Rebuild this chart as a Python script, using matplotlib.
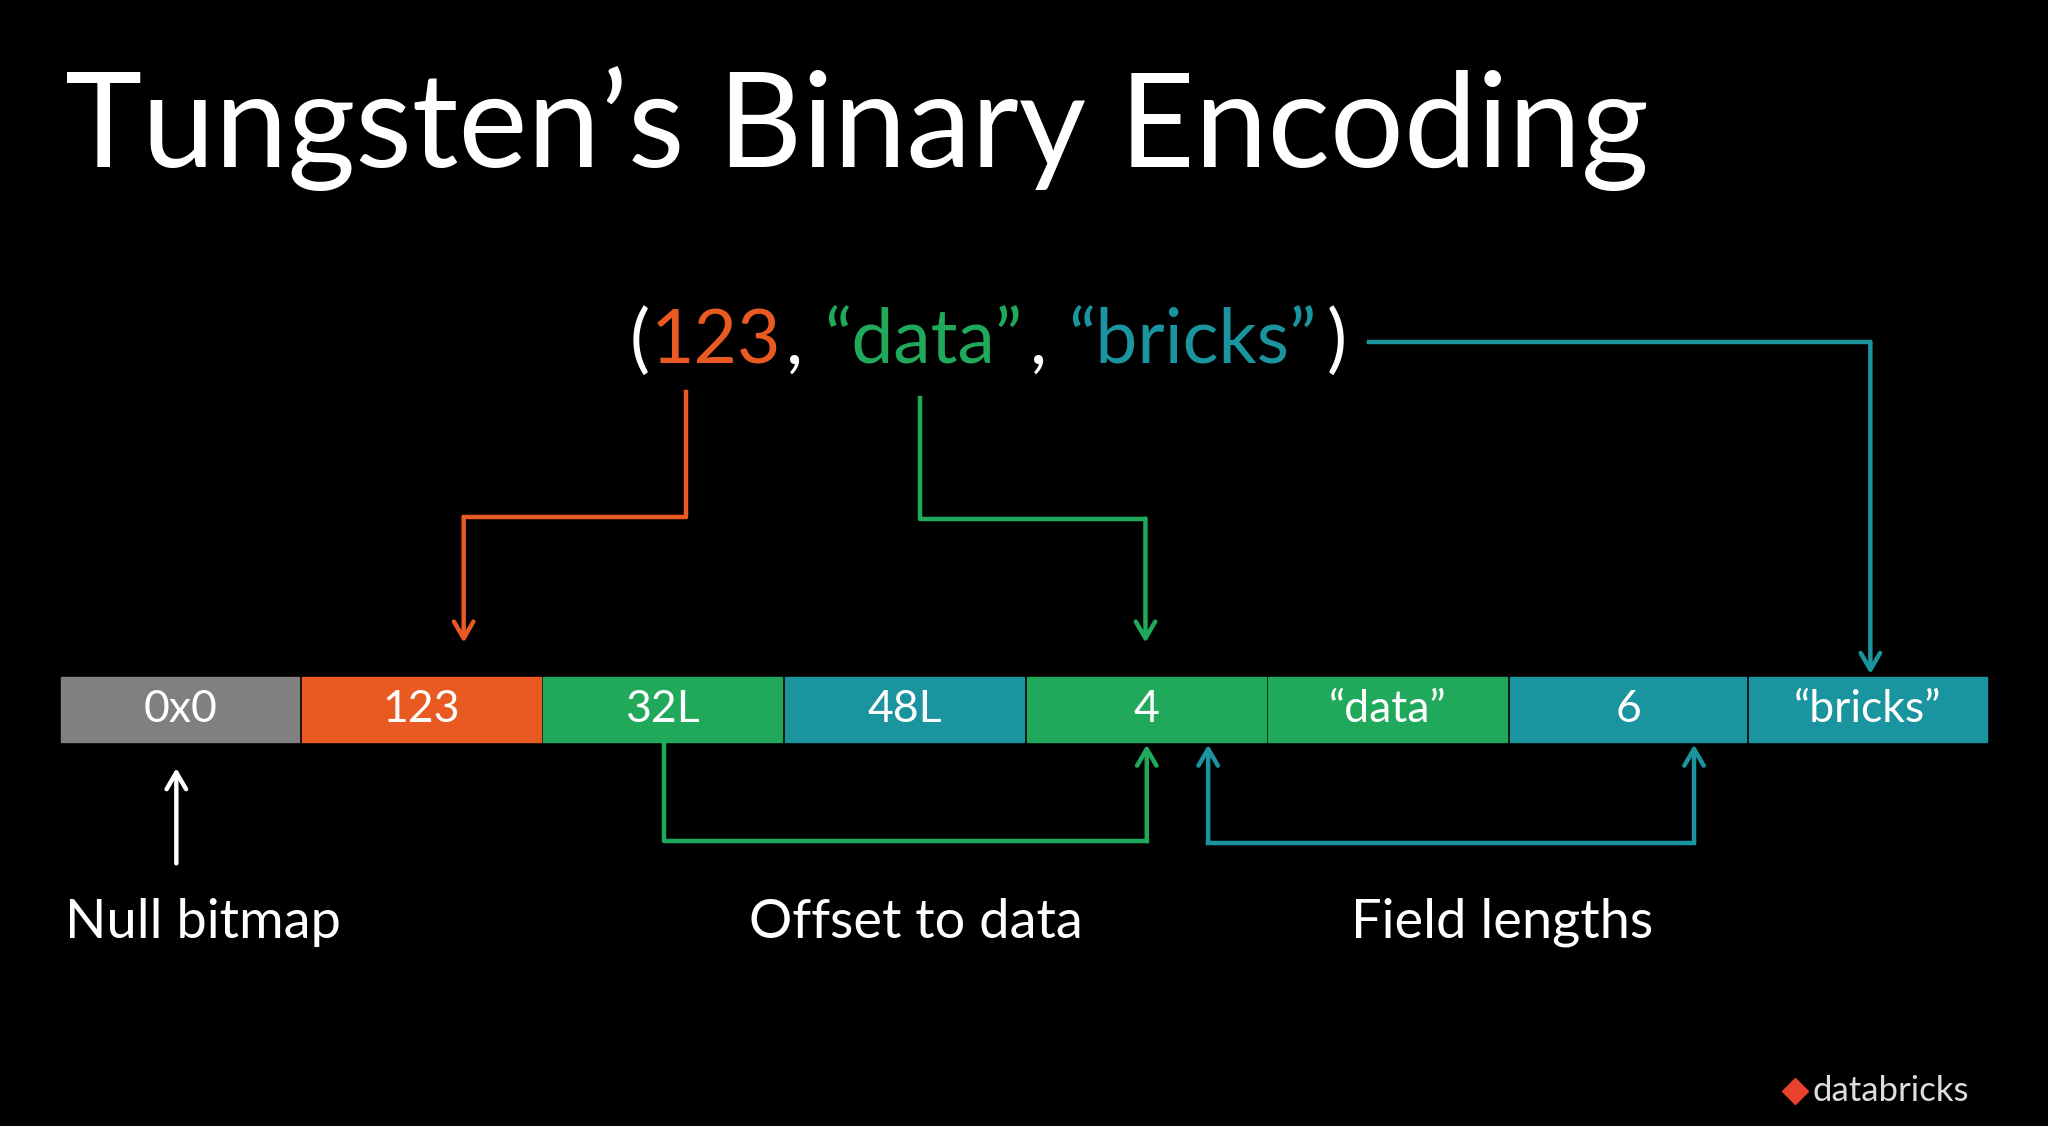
import matplotlib
matplotlib.use("Agg")
import matplotlib.pyplot as plt
from matplotlib.patches import Rectangle, FancyArrowPatch

plt.rcParams['font.family'] = ['Lato', 'DejaVu Sans']

# reference drawn in a 1568 x 862 pixel frame
W, H = 1568, 862
GRAY, ORANGE, GREEN, TEAL = '#808080', '#e85a21', '#20a95b', '#1a949f'

cell_labels = ['0x0', '123', '32L', '48L', '4', '\u201cdata\u201d', '6', '\u201cbricks\u201d']
cell_colors = [GRAY, ORANGE, GREEN, TEAL, GREEN, GREEN, TEAL, TEAL]
cell_edges = [46, 230, 415, 600, 785, 970, 1155, 1338, 1522]
tuple_parts = [('(', 'white'), ('123', ORANGE), (', ', 'white'), ('\u201cdata\u201d', GREEN),
               (', ', 'white'), ('\u201cbricks\u201d', TEAL), (')', 'white')]
# connector paths: (points, color, arrow at start too)
paths = [
    ([(525, 300), (525, 396), (355, 396), (355, 492)], ORANGE, False),
    ([(704, 305), (704, 397), (877, 397), (877, 492)], GREEN, False),
    ([(1048, 262), (1432, 262), (1432, 516)], TEAL, False),
    ([(508, 568), (508, 644), (878, 644), (878, 570)], GREEN, False),
    ([(1297, 570), (1297, 645), (925, 645), (925, 570)], TEAL, True),
]
labels = [(155, 'Null bitmap'), (701, 'Offset to data'), (1150, 'Field lengths')]

fig = plt.figure(figsize=(20.48, 11.26), dpi=100, facecolor='black')
ax = fig.add_axes([0, 0, 1, 1])
ax.set_xlim(0, W)
ax.set_ylim(H, 0)
ax.axis('off')
ax.set_facecolor('black')

ax.text(50, 98, 'Tungsten\u2019s Binary Encoding', color='white', fontsize=94,
        va='center', ha='left')

for i, lab in enumerate(cell_labels):
    x0, x1 = cell_edges[i] + 1, cell_edges[i + 1] - 1
    ax.add_patch(Rectangle((x0, 518), x1 - x0, 50, color=cell_colors[i]))
    ax.text((x0 + x1) / 2, 543, lab, color='white', fontsize=32, ha='center', va='center')

# multicolour tuple text
fig.canvas.draw()
r = fig.canvas.get_renderer()
x = 482
for s, c in tuple_parts:
    t = ax.text(x, 262, s, color=c, fontsize=54, ha='left', va='center')
    bb = t.get_window_extent(renderer=r)
    x += bb.width * W / fig.bbox.width * 1.04

arrow = dict(lw=3.2, mutation_scale=1, shrinkA=0, shrinkB=0)
for pts, c, both in paths:
    xs, ys = zip(*pts)
    if both:
        ax.plot(xs[1:-1], ys[1:-1], color=c, lw=3.2)
        ax.add_patch(FancyArrowPatch(pts[1], pts[0], arrowstyle='->,head_length=12,head_width=7',
                                     color=c, **arrow))
    else:
        ax.plot(xs[:-1], ys[:-1], color=c, lw=3.2)
    ax.add_patch(FancyArrowPatch(pts[-2], pts[-1], arrowstyle='->,head_length=12,head_width=7',
                                 color=c, **arrow))

ax.add_patch(FancyArrowPatch((135, 661), (135, 588), arrowstyle='->,head_length=12,head_width=7',
                             color='white', **arrow))

for xc, s in labels:
    ax.text(xc, 706, s, color='white', fontsize=39, ha='center', va='center')

ax.plot([1374], [835], marker='D', color='#e8422b', ms=13)
ax.text(1388, 835, 'databricks', color='#dddddd', fontsize=25, ha='left', va='center')

fig.savefig('out.png', facecolor='black')
